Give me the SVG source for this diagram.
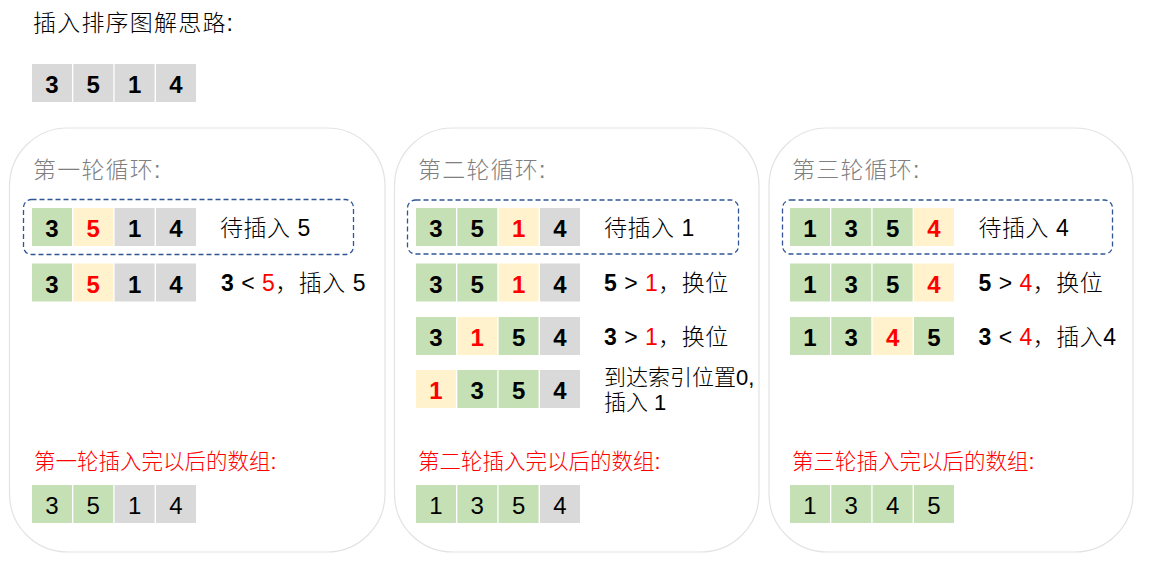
<svg xmlns="http://www.w3.org/2000/svg" width="1153" height="571" viewBox="0 0 1153 571">
<style>
text{font-family:"Liberation Sans","Noto Sans CJK SC",sans-serif;}
.panel{fill:#fff;stroke:#e3e3e3;stroke-width:1.2;}
.dash{fill:none;stroke:#2f5597;stroke-width:1.3;stroke-dasharray:5 3;}
.g{fill:#c5e0b4;}
.y{fill:#fff2cc;}
.k{fill:#d9d9d9;}
.d{font-size:24px;font-weight:bold;text-anchor:middle;fill:#000;}
.dn{font-size:24px;font-weight:normal;text-anchor:middle;fill:#000;}
.r{fill:#ff0000;}
.title{font-size:23px;letter-spacing:1.2px;fill:#000;font-weight:300;}
.ptitle{font-size:23px;letter-spacing:1.2px;fill:#7f7f7f;font-weight:300;}
.lbl{font-size:21.5px;fill:#ff0000;font-weight:300;}
.t{font-size:23px;letter-spacing:0.5px;fill:#000;font-weight:300;}
.ts{font-size:22px;fill:#000;font-weight:300;}
.b{font-weight:bold;}
</style>

<g id="title">
<text class="title" x="33" y="31">插入排序图解思路:</text>
</g>

<g id="initial-array" transform="translate(32,64)">
<rect class="k" x="0" y="0" width="40" height="38"/><rect class="k" x="41.3" y="0" width="40" height="38"/><rect class="k" x="82.6" y="0" width="40" height="38"/><rect class="k" x="124" y="0" width="40" height="38"/>
<text class="d" x="20" y="29">3</text><text class="d" x="61.3" y="29">5</text><text class="d" x="102.6" y="29">1</text><text class="d" x="144" y="29">4</text>
</g>

<g id="panel1">
<rect class="panel" x="9.5" y="128" width="375.5" height="424" rx="58"/>
<text class="ptitle" x="33" y="178">第一轮循环:</text>
<rect class="dash" x="23.5" y="199.5" width="330" height="55" rx="8"/>
<g id="p1-row1" transform="translate(32,208)">
<rect class="g" x="0" y="0" width="40" height="38"/><rect class="y" x="41.3" y="0" width="40" height="38"/><rect class="k" x="82.6" y="0" width="40" height="38"/><rect class="k" x="124" y="0" width="40" height="38"/>
<text class="d" x="20" y="29">3</text><text class="d r" x="61.3" y="29">5</text><text class="d" x="102.6" y="29">1</text><text class="d" x="144" y="29">4</text>
</g>
<text class="t" x="220" y="236">待插入 5</text>
<g id="p1-row2" transform="translate(32,263.5)">
<rect class="g" x="0" y="0" width="40" height="38"/><rect class="y" x="41.3" y="0" width="40" height="38"/><rect class="k" x="82.6" y="0" width="40" height="38"/><rect class="k" x="124" y="0" width="40" height="38"/>
<text class="d" x="20" y="29">3</text><text class="d r" x="61.3" y="29">5</text><text class="d" x="102.6" y="29">1</text><text class="d" x="144" y="29">4</text>
</g>
<text class="t" x="221" y="291"><tspan class="b">3</tspan> &lt; <tspan class="r">5</tspan>，插入 5</text>
<text class="lbl" x="34" y="468.5">第一轮插入完以后的数组:</text>
<g id="p1-final" transform="translate(32,485)">
<rect class="g" x="0" y="0" width="40" height="38"/><rect class="g" x="41.3" y="0" width="40" height="38"/><rect class="k" x="82.6" y="0" width="40" height="38"/><rect class="k" x="124" y="0" width="40" height="38"/>
<text class="dn" x="20" y="29">3</text><text class="dn" x="61.3" y="29">5</text><text class="dn" x="102.6" y="29">1</text><text class="dn" x="144" y="29">4</text>
</g>
</g>

<g id="panel2">
<rect class="panel" x="394.5" y="128" width="364.5" height="424" rx="58"/>
<text class="ptitle" x="418" y="177.5">第二轮循环:</text>
<rect class="dash" x="407.5" y="200" width="331" height="54" rx="8"/>
<g id="p2-row1" transform="translate(416,208)">
<rect class="g" x="0" y="0" width="40" height="38"/><rect class="g" x="41.3" y="0" width="40" height="38"/><rect class="y" x="82.6" y="0" width="40" height="38"/><rect class="k" x="124" y="0" width="40" height="38"/>
<text class="d" x="20" y="29">3</text><text class="d" x="61.3" y="29">5</text><text class="d r" x="102.6" y="29">1</text><text class="d" x="144" y="29">4</text>
</g>
<text class="t" x="604" y="236">待插入 1</text>
<g id="p2-row2" transform="translate(416,263.5)">
<rect class="g" x="0" y="0" width="40" height="38"/><rect class="g" x="41.3" y="0" width="40" height="38"/><rect class="y" x="82.6" y="0" width="40" height="38"/><rect class="k" x="124" y="0" width="40" height="38"/>
<text class="d" x="20" y="29">3</text><text class="d" x="61.3" y="29">5</text><text class="d r" x="102.6" y="29">1</text><text class="d" x="144" y="29">4</text>
</g>
<text class="t" x="604" y="291"><tspan class="b">5</tspan> &gt; <tspan class="r">1</tspan>，换位</text>
<g id="p2-row3" transform="translate(416,317)">
<rect class="g" x="0" y="0" width="40" height="38"/><rect class="y" x="41.3" y="0" width="40" height="38"/><rect class="g" x="82.6" y="0" width="40" height="38"/><rect class="k" x="124" y="0" width="40" height="38"/>
<text class="d" x="20" y="29">3</text><text class="d r" x="61.3" y="29">1</text><text class="d" x="102.6" y="29">5</text><text class="d" x="144" y="29">4</text>
</g>
<text class="t" x="604" y="345"><tspan class="b">3</tspan> &gt; <tspan class="r">1</tspan>，换位</text>
<g id="p2-row4" transform="translate(416,370)">
<rect class="y" x="0" y="0" width="40" height="38"/><rect class="g" x="41.3" y="0" width="40" height="38"/><rect class="g" x="82.6" y="0" width="40" height="38"/><rect class="k" x="124" y="0" width="40" height="38"/>
<text class="d r" x="20" y="29">1</text><text class="d" x="61.3" y="29">3</text><text class="d" x="102.6" y="29">5</text><text class="d" x="144" y="29">4</text>
</g>
<text class="ts" x="604" y="385">到达索引位置0,</text>
<text class="ts" x="604" y="410">插入 1</text>
<text class="lbl" x="418" y="468.5">第二轮插入完以后的数组:</text>
<g id="p2-final" transform="translate(416,485)">
<rect class="g" x="0" y="0" width="40" height="38"/><rect class="g" x="41.3" y="0" width="40" height="38"/><rect class="g" x="82.6" y="0" width="40" height="38"/><rect class="k" x="124" y="0" width="40" height="38"/>
<text class="dn" x="20" y="29">1</text><text class="dn" x="61.3" y="29">3</text><text class="dn" x="102.6" y="29">5</text><text class="dn" x="144" y="29">4</text>
</g>
</g>

<g id="panel3">
<rect class="panel" x="769" y="128" width="364" height="424" rx="58"/>
<text class="ptitle" x="792" y="177.5">第三轮循环:</text>
<rect class="dash" x="782.5" y="200" width="330" height="54" rx="8"/>
<g id="p3-row1" transform="translate(790,208)">
<rect class="g" x="0" y="0" width="40" height="38"/><rect class="g" x="41.3" y="0" width="40" height="38"/><rect class="g" x="82.6" y="0" width="40" height="38"/><rect class="y" x="124" y="0" width="40" height="38"/>
<text class="d" x="20" y="29">1</text><text class="d" x="61.3" y="29">3</text><text class="d" x="102.6" y="29">5</text><text class="d r" x="144" y="29">4</text>
</g>
<text class="t" x="978.5" y="236">待插入 4</text>
<g id="p3-row2" transform="translate(790,263.5)">
<rect class="g" x="0" y="0" width="40" height="38"/><rect class="g" x="41.3" y="0" width="40" height="38"/><rect class="g" x="82.6" y="0" width="40" height="38"/><rect class="y" x="124" y="0" width="40" height="38"/>
<text class="d" x="20" y="29">1</text><text class="d" x="61.3" y="29">3</text><text class="d" x="102.6" y="29">5</text><text class="d r" x="144" y="29">4</text>
</g>
<text class="t" x="978.5" y="291"><tspan class="b">5</tspan> &gt; <tspan class="r">4</tspan>，换位</text>
<g id="p3-row3" transform="translate(790,317)">
<rect class="g" x="0" y="0" width="40" height="38"/><rect class="g" x="41.3" y="0" width="40" height="38"/><rect class="y" x="82.6" y="0" width="40" height="38"/><rect class="g" x="124" y="0" width="40" height="38"/>
<text class="d" x="20" y="29">1</text><text class="d" x="61.3" y="29">3</text><text class="d r" x="102.6" y="29">4</text><text class="d" x="144" y="29">5</text>
</g>
<text class="t" x="978.5" y="345"><tspan class="b">3</tspan> &lt; <tspan class="r">4</tspan>，插入4</text>
<text class="lbl" x="792" y="468.5">第三轮插入完以后的数组:</text>
<g id="p3-final" transform="translate(790,485)">
<rect class="g" x="0" y="0" width="40" height="38"/><rect class="g" x="41.3" y="0" width="40" height="38"/><rect class="g" x="82.6" y="0" width="40" height="38"/><rect class="g" x="124" y="0" width="40" height="38"/>
<text class="dn" x="20" y="29">1</text><text class="dn" x="61.3" y="29">3</text><text class="dn" x="102.6" y="29">4</text><text class="dn" x="144" y="29">5</text>
</g>
</g>

<g id="connectors"/>
</svg>
